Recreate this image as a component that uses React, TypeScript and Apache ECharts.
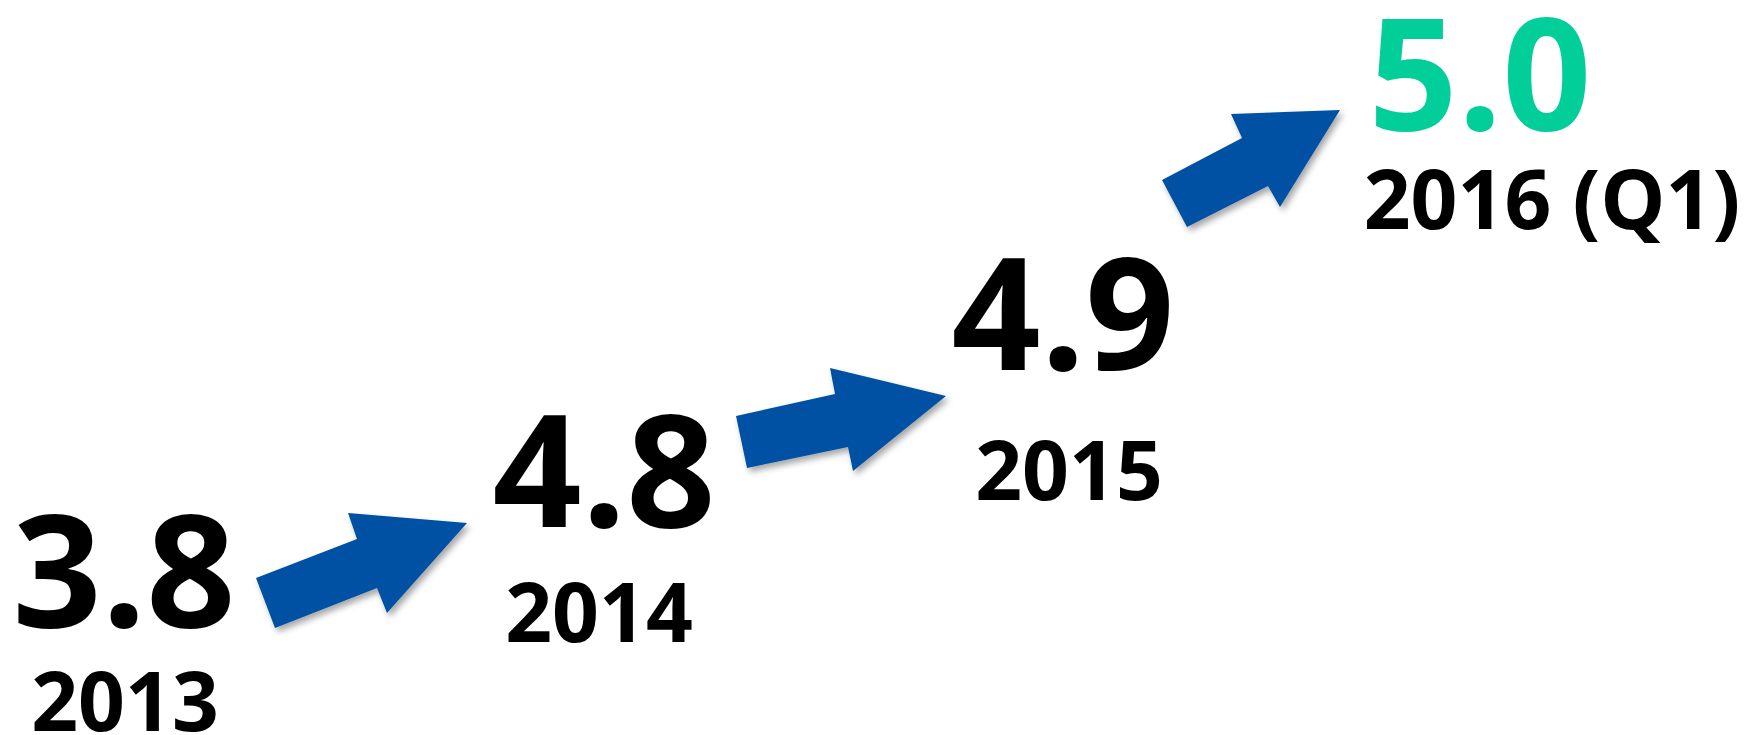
import React, { useEffect, useRef } from "react";
import * as echarts from "echarts";

// ---- data ----
const years = ["2013", "2014", "2015", "2016 (Q1)"];
const values = [3.8, 4.8, 4.9, 5.0];
const highlightIndex = 3;

// ---- layout (pixel positions of each step, not data) ----
const valueCenters = [
  [124, 566],
  [604, 466],
  [1063, 309],
  [1480, 69],
];
const yearCenters = [
  [125, 699],
  [599, 610],
  [1069, 468],
  [1552, 197],
];
// arrows: tail top, notch top, barb top, tip, barb bottom, notch bottom, tail bottom
const arrows = [
  [[256, 578], [357, 539], [348, 513], [467, 523], [387, 613], [377, 588], [275, 628]],
  [[736, 416], [835, 394], [830, 368], [946, 396], [853, 471], [848, 447], [747, 468]],
  [[1162, 180], [1242, 138], [1231, 114], [1340, 110], [1280, 207], [1268, 186], [1187, 227]],
];

const FONT = "'Open Sans', 'Noto Sans', sans-serif";
const BLUE = "#0351A4";
const GREEN = "#02CE9A";

export default function App() {
  const ref = useRef<HTMLDivElement>(null);
  useEffect(() => {
    document.body.style.margin = "0";
    const chart = echarts.init(ref.current!, null, { renderer: "svg" });
    const elements: any[] = [];
    arrows.forEach((pts) => {
      elements.push({
        type: "polygon",
        shape: { points: pts },
        style: {
          fill: BLUE,
          shadowBlur: 6,
          shadowColor: "rgba(0,0,0,0.35)",
          shadowOffsetX: 3,
          shadowOffsetY: 4,
        },
      });
    });
    values.forEach((v, i) => {
      elements.push({
        type: "text",
        x: valueCenters[i][0],
        y: valueCenters[i][1],
        style: {
          text: v.toFixed(1),
          fontFamily: FONT,
          fontWeight: 700,
          fontSize: 156,
          lineHeight: 118,
          fill: i === highlightIndex ? GREEN : "#000",
          align: "center",
          verticalAlign: "middle",
        },
      });
    });
    years.forEach((y, i) => {
      elements.push({
        type: "text",
        x: yearCenters[i][0],
        y: yearCenters[i][1],
        style: {
          text: y,
          fontFamily: FONT,
          fontWeight: 700,
          fontSize: 82,
          lineHeight: 64,
          fill: "#000",
          align: "center",
          verticalAlign: "middle",
        },
      });
    });
    chart.setOption({
      animation: false,
      backgroundColor: "#fff",
      graphic: { elements },
    });
    return () => chart.dispose();
  }, []);
  return <div ref={ref} style={{ width: 1754, height: 735 }} />;
}
